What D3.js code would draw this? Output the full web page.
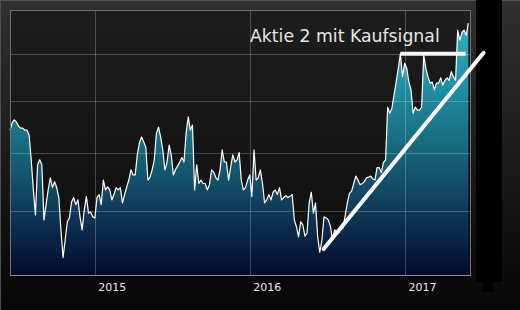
<!DOCTYPE html>
<html>
<head>
<meta charset="utf-8">
<script src="https://cdn.jsdelivr.net/npm/d3@7"></script>
<style>
  html, body { margin: 0; padding: 0; background: #000; }
  svg { display: block; }
</style>
</head>
<body>
<svg id="chart" width="520" height="310"></svg>
<script>
// ---------- data ----------
const title = "Aktie 2 mit Kaufsignal";
const seriesStart = "2014-06-15";   // first observation
const stepDays = 5;                  // spacing of observations
const values = [
  10.43,10.57,10.63,10.59,10.51,10.47,10.47,10.43,10.43,10.34,
  9.88,9.35,8.93,9.79,9.88,9.79,8.85,9.10,9.35,9.56,
  9.39,9.49,9.39,9.22,8.69,8.26,8.53,8.82,8.88,9.14,
  9.22,9.10,9.18,8.90,8.69,9.01,9.24,8.96,8.98,8.90,
  8.88,9.22,9.27,9.10,9.52,9.35,9.40,9.35,9.18,9.27,
  9.39,9.35,9.39,9.13,9.27,9.40,9.52,9.70,9.61,9.61,
  9.97,10.19,10.30,10.21,10.11,9.52,9.57,9.70,9.88,10.37,
  10.49,10.30,10.06,9.70,9.83,10.15,9.97,9.61,9.70,9.77,
  9.84,9.92,9.84,10.37,10.69,10.43,10.53,9.35,9.79,9.46,
  9.52,9.46,9.46,9.35,9.44,9.70,9.66,9.56,9.52,9.70,
  10.06,9.84,9.84,9.52,9.75,9.97,9.84,9.88,10.01,9.52,
  9.35,9.39,9.52,9.61,9.24,10.06,9.52,9.56,9.70,9.46,
  9.13,9.18,9.27,9.18,9.31,9.35,9.27,9.39,9.18,9.22,
  9.25,9.22,9.24,9.27,8.85,8.74,8.58,8.82,8.77,8.59,
  8.64,9.13,9.31,8.96,9.13,8.58,8.34,8.53,8.90,8.88,
  8.85,8.75,8.53,8.69,8.66,8.64,8.74,8.72,8.93,9.13,
  9.29,9.33,9.46,9.59,9.52,9.44,9.46,9.49,9.56,9.57,
  9.59,9.54,9.52,9.74,9.74,9.65,9.83,9.88,10.88,10.76,
  10.86,11.13,11.39,11.68,12.00,11.50,11.79,11.68,11.39,11.23,
  10.76,10.88,10.82,10.82,10.88,11.97,11.68,11.50,11.37,11.39,
  11.23,11.37,11.37,11.48,11.33,11.43,11.48,11.43,11.61,11.50,
  11.43,12.53,12.30,12.48,12.53,12.41,12.69
];
const xDomain = ["2014-06-15", "2017-06-03"];
const yDomain = [8, 13];
const yearTicks = ["2015-01-01", "2016-01-01", "2017-01-01"];
const yGrid = [9, 10, 11, 12];
const trendLine = [["2016-06-23", 8.39], ["2017-07-05", 12.02]];
const resistanceLine = [["2016-12-21", 12.0], ["2017-05-24", 12.0]];

// ---------- build ----------
const parse = d3.utcParse("%Y-%m-%d");
const start = parse(seriesStart);
const data = values.map((v, i) => ({ date: d3.utcDay.offset(start, i * stepDays), value: v }));

const W = 520, H = 310;
const plot = { left: 10, top: 10, right: 470, bottom: 275 };

const svg = d3.select("#chart");
const defs = svg.append("defs");

const outerGrad = defs.append("linearGradient").attr("id", "outerGrad")
  .attr("x1", 0).attr("y1", 0).attr("x2", 0).attr("y2", 1);
outerGrad.append("stop").attr("offset", "0%").attr("stop-color", "#303030");
outerGrad.append("stop").attr("offset", "100%").attr("stop-color", "#060606");

const plotGrad = defs.append("linearGradient").attr("id", "plotGrad")
  .attr("x1", 0).attr("y1", 0).attr("x2", 0).attr("y2", 1);
plotGrad.append("stop").attr("offset", "0%").attr("stop-color", "#1d1d1d");
plotGrad.append("stop").attr("offset", "100%").attr("stop-color", "#0e0e0e");

const areaGrad = defs.append("linearGradient").attr("id", "areaGrad")
  .attr("gradientUnits", "userSpaceOnUse")
  .attr("x1", 0).attr("y1", plot.top).attr("x2", 0).attr("y2", plot.bottom);
[["0%", "#34b6c6"], ["30%", "#1f8ea2"], ["55%", "#166378"], ["80%", "#0d3152"], ["100%", "#040a2c"]]
  .forEach(([o, c]) => areaGrad.append("stop").attr("offset", o).attr("stop-color", c));

// outer background
svg.append("rect").attr("width", W).attr("height", H).attr("fill", "url(#outerGrad)");
svg.append("line").attr("x1", 0.5).attr("x2", 0.5).attr("y1", 0).attr("y2", H)
  .attr("stroke", "#4e4e4e").attr("stroke-width", 1);
svg.append("line").attr("x1", 0).attr("x2", W).attr("y1", 0.5).attr("y2", 0.5)
  .attr("stroke", "#555").attr("stroke-width", 1);

// black bar at right
svg.append("rect").attr("x", 476).attr("y", 0).attr("width", 26).attr("height", 282).attr("fill", "#000");
svg.append("rect").attr("x", 483).attr("y", 280).attr("width", 10).attr("height", 12).attr("fill", "#000");

// plot background
svg.append("rect").attr("x", plot.left).attr("y", plot.top)
  .attr("width", plot.right - plot.left).attr("height", plot.bottom - plot.top)
  .attr("fill", "url(#plotGrad)");

const x = d3.scaleUtc().domain(xDomain.map(parse)).range([plot.left, plot.right]);
const y = d3.scaleLog().domain(yDomain).range([plot.bottom, plot.top]);

// area + line
const area = d3.area().x(d => x(d.date)).y0(plot.bottom).y1(d => y(d.value));
const line = d3.line().x(d => x(d.date)).y(d => y(d.value));

svg.append("path").datum(data).attr("d", area).attr("fill", "url(#areaGrad)");

// grid
const grid = svg.append("g").attr("stroke", "rgba(255,255,255,0.22)").attr("stroke-width", 1);
yGrid.forEach(v => {
  const yy = Math.round(y(v)) + 0.5;
  grid.append("line").attr("x1", plot.left).attr("x2", plot.right).attr("y1", yy).attr("y2", yy);
});
yearTicks.forEach(t => {
  const xx = Math.round(x(parse(t))) + 0.5;
  grid.append("line").attr("x1", xx).attr("x2", xx).attr("y1", plot.top).attr("y2", plot.bottom);
});

svg.append("path").datum(data).attr("d", line)
  .attr("fill", "none").attr("stroke", "#fff").attr("stroke-width", 1.2)
  .attr("stroke-linejoin", "round");

// plot border
svg.append("rect").attr("x", plot.left + 0.5).attr("y", plot.top + 0.5)
  .attr("width", plot.right - plot.left).attr("height", plot.bottom - plot.top)
  .attr("fill", "none").attr("stroke", "#707070").attr("stroke-width", 1);
svg.append("line").attr("x1", plot.left).attr("x2", plot.right + 1)
  .attr("y1", plot.bottom + 0.5).attr("y2", plot.bottom + 0.5)
  .attr("stroke", "#8a8c98").attr("stroke-width", 1);

// x axis labels
const xAxis = d3.axisBottom(x)
  .tickValues(yearTicks.map(parse))
  .tickFormat(d3.utcFormat("%Y"))
  .tickSize(0).tickPadding(8);
const gx = svg.append("g").attr("transform", `translate(0,${plot.bottom})`).call(xAxis);
gx.select(".domain").remove();
gx.selectAll("text")
  .attr("text-anchor", "start").attr("dx", 3)
  .attr("fill", "#e8e8e8")
  .style("font-family", "'DejaVu Sans', Verdana, sans-serif")
  .style("font-size", "11px");

// annotations
const annLine = d3.line().x(d => x(parse(d[0]))).y(d => y(d[1]));
svg.append("path").datum(trendLine).attr("d", annLine)
  .attr("fill", "none").attr("stroke", "#fff").attr("stroke-width", 4).attr("stroke-linecap", "round");
svg.append("path").datum(resistanceLine).attr("d", annLine)
  .attr("fill", "none").attr("stroke", "#f4f4f4").attr("stroke-width", 4).attr("stroke-linecap", "butt");

// title
svg.append("text").attr("x", 250).attr("y", 42)
  .attr("fill", "#e6e6e6")
  .style("font-family", "'DejaVu Sans', Verdana, sans-serif")
  .style("font-size", "17.3px")
  .text(title);
</script>
</body>
</html>
